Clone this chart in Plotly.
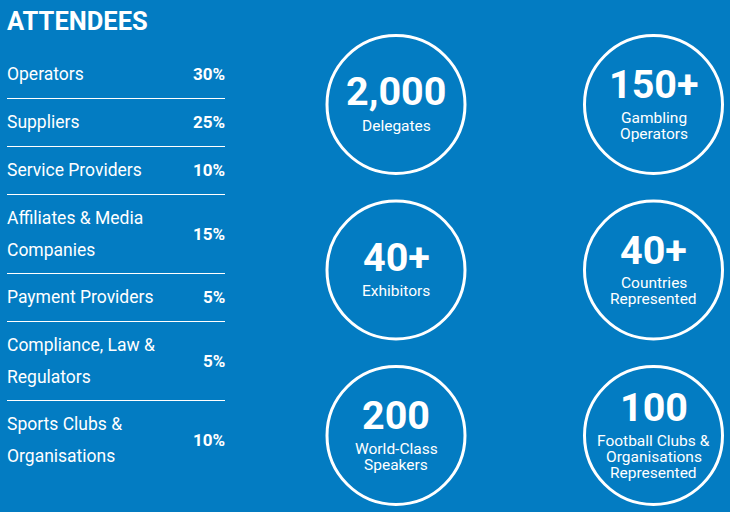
import plotly.graph_objects as go

BG = "#037cc2"
FONT = "Roboto, sans-serif"

title = "ATTENDEES"
categories = [["Operators"], ["Suppliers"], ["Service Providers"],
              ["Affiliates & Media", "Companies"], ["Payment Providers"],
              ["Compliance, Law &", "Regulators"], ["Sports Clubs &", "Organisations"]]
shares = [30, 25, 10, 15, 5, 5, 10]

stat_values = ["2,000", "150+", "40+", "40+", "200", "100"]
stat_labels = [["Delegates"], ["Gambling", "Operators"], ["Exhibitors"],
               ["Countries", "Represented"], ["World-Class", "Speakers"],
               ["Football Clubs &", "Organisations", "Represented"]]

fig = go.Figure()


def text(x, y, s, size, anchor="left", bold=False):
    fig.add_annotation(x=x, y=y, text=f"<b>{s}</b>" if bold else s, showarrow=False,
                       xanchor=anchor, yanchor="middle", xref="x", yref="y",
                       font=dict(family=FONT, size=size, color="white"))


text(5, 21, title, 25.5, bold=True)

# left table, annotations carry 2px of padding so text x is nudged out
y = 50.5
for cat, share in zip(categories, shares):
    h = 48 if len(cat) == 1 else 31.5 * len(cat) + 16
    top = y + 8
    for i, line in enumerate(cat):
        text(5, top + 15.6 + i * 31.5, line, 17.5)
    text(227, y + h / 2 - 0.5, f"{share}%", 17, anchor="right", bold=True)
    y += h
    if cat != categories[-1]:
        fig.add_shape(type="line", x0=7, x1=225, y0=y, y1=y, line=dict(color="white", width=1))

# circles
xs = [396, 653.5]
ys = [104.5, 270, 435.5]
cx = [xs[i % 2] for i in range(6)]
cy = [ys[i // 2] for i in range(6)]
fig.add_trace(go.Scatter(x=cx, y=cy, mode="markers", hoverinfo="skip",
                         marker=dict(size=138, color="rgba(0,0,0,0)", line=dict(color="white", width=3))))

for x0, y0, val, lab in zip(cx, cy, stat_values, stat_labels):
    n = len(lab)
    val_y = y0 - 13 if n == 1 else y0 - 20 if n == 2 else y0 - 28
    text(x0, val_y, val, 39.5, anchor="center", bold=True)
    first = y0 + 21 if n == 1 else y0 + 13 if n == 2 else y0 + 5
    for i, line in enumerate(lab):
        text(x0, first + i * 16, line, 15.5, anchor="center")

fig.update_layout(width=730, height=512, margin=dict(l=0, r=0, t=0, b=0),
                  paper_bgcolor=BG, plot_bgcolor=BG, showlegend=False,
                  xaxis=dict(range=[0, 730], visible=False, fixedrange=True),
                  yaxis=dict(range=[512, 0], visible=False, fixedrange=True))

# page default margin would shift everything by 8px
fig.write_html("out.html", config=dict(displayModeBar=False),
               post_script="document.body.style.margin='0';document.body.style.overflow='hidden';")
